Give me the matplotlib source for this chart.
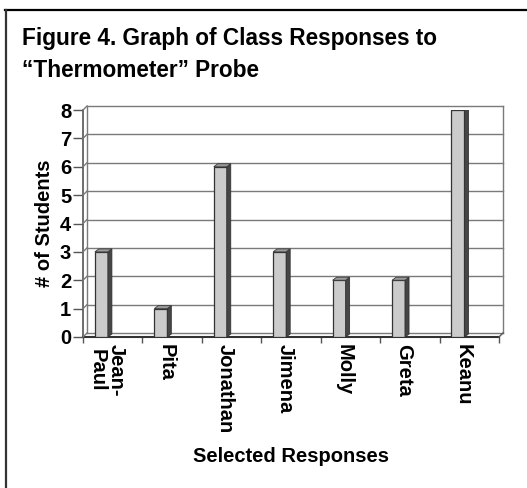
import matplotlib
matplotlib.use("Agg")
import matplotlib.pyplot as plt
from matplotlib.lines import Line2D
from matplotlib.patches import Polygon
from matplotlib.transforms import offset_copy, ScaledTranslation

# ---- data ----
categories = ["Jean-\nPaul", "Pita", "Jonathan", "Jimena", "Molly", "Greta", "Keanu"]
counts = [3, 1, 6, 3, 2, 2, 8]
y_ticks = [0, 1, 2, 3, 4, 5, 6, 7, 8]
title_lines = ["Figure 4. Graph of Class Responses to", "\u201cThermometer\u201d Probe"]
y_label = "# of Students"
x_label = "Selected Responses"

W, H = 527, 488
DPI = 100
FONT = "Liberation Sans"

fig = plt.figure(figsize=(W / DPI, H / DPI), dpi=DPI)
fig.patch.set_facecolor("white")

# front plotting frame in pixels: x 83..499, y(0)=337, y(8)=110
L, R, B, T = 83, 499, 337, 110
ax = fig.add_axes([L / W, 1 - B / H, (R - L) / W, (B - T) / H])
ax.set_xlim(-0.5, len(categories) - 0.5)
ax.set_ylim(0, 8)
ax.patch.set_visible(False)
for s in ax.spines.values():
    s.set_visible(False)

grid_c = "#7a7a7a"
axis_c = "#555555"
DX, DY = 4, 4  # depth offset of the back wall in pixels
back = offset_copy(ax.transData, fig=fig, x=DX, y=DY, units="dots")
x0, x1 = ax.get_xlim()

# back wall gridlines
for yv in y_ticks:
    ax.plot([x0, x1], [yv, yv], color=grid_c, lw=1.0, transform=back, clip_on=False, zorder=1)
# back wall vertical edges
ax.plot([x0, x0], [0, 8], color=grid_c, lw=1.0, transform=back, clip_on=False, zorder=1)
ax.plot([x1, x1], [0, 8], color=grid_c, lw=1.0, transform=back, clip_on=False, zorder=1)

# left wall diagonals + floor right diagonal (display coords)
def disp(x, y):
    return ax.transData.transform((x, y))

for yv in y_ticks:
    (fx, fy) = disp(x0, yv)
    fig.add_artist(Line2D([fx, fx + DX], [fy, fy + DY], transform=None, color=grid_c, lw=1.0))
(fx, fy) = disp(x1, 0)
fig.add_artist(Line2D([fx, fx + DX], [fy, fy + DY], transform=None, color=axis_c, lw=1.0))

# front y axis and floor front edge
ax.plot([x0, x0], [0, 8], color=axis_c, lw=1.2, clip_on=False, zorder=2)
ax.plot([x0, x1], [0, 0], color="#333333", lw=1.5, clip_on=False, zorder=2)

# bars: front face, side and top
px_per_x = (R - L) / (x1 - x0)
px_per_y = (B - T) / 8.0
bw = 13 / px_per_x
sdx = 4 / px_per_x
sdy = 3 / px_per_y
offs = -0.3
for i, v in enumerate(counts):
    left = i + offs
    ax.bar(left + bw / 2, v, width=bw, color="#cbcbcb", edgecolor="#333333",
           linewidth=0.9, zorder=5)
    side = Polygon([(left + bw, 0), (left + bw, v), (left + bw + sdx, v + sdy),
                    (left + bw + sdx, sdy)], closed=True, facecolor="#454545",
                   edgecolor="#333333", linewidth=0.6, zorder=5)
    top = Polygon([(left, v), (left + bw, v), (left + bw + sdx, v + sdy),
                   (left + sdx, v + sdy)], closed=True, facecolor="#9a9a9a",
                  edgecolor="#3a3a3a", linewidth=0.6, zorder=5)
    ax.add_patch(side)
    ax.add_patch(top)

# ticks
ax.set_yticks(y_ticks)
ax.set_yticklabels([str(t) for t in y_ticks], fontfamily=FONT, fontweight="bold",
                   fontsize=14.5)
ax.tick_params(axis="y", length=7, width=1, color=axis_c, pad=1.5)
ax.set_xticks([i + 0.5 for i in range(-1, len(categories))], minor=True)
ax.set_xticks(range(len(categories)))
ax.set_xticklabels(categories, rotation=-90, fontfamily=FONT, fontweight="bold",
                   fontsize=14.5, va="top", ha="center", linespacing=1.0)
ax.tick_params(axis="x", which="major", length=0, pad=5)
ax.tick_params(axis="x", which="minor", length=4, width=1, color=axis_c)
for lab in ax.get_xticklabels():
    lab.set_multialignment("center")
    lab.set_transform(lab.get_transform() + ScaledTranslation(-6 / DPI, 0, fig.dpi_scale_trans))

# texts
fig.text(22 / W, 1 - 45 / H, title_lines[0], fontfamily=FONT, fontweight="bold",
         fontsize=16.3, ha="left", va="baseline")
fig.text(22 / W, 1 - 77 / H, title_lines[1], fontfamily=FONT, fontweight="bold",
         fontsize=16.3, ha="left", va="baseline")
fig.text(44 / W, 1 - 223 / H, y_label, rotation=90, fontfamily=FONT, fontweight="bold",
         fontsize=14.5, ha="center", va="center")
fig.text(291 / W, 1 - 457 / H, x_label, fontfamily=FONT, fontweight="bold",
         fontsize=14.5, ha="center", va="center")

# outer frame (top and left rules)
fig.add_artist(Line2D([5 / W, 1], [1 - 9.5 / H, 1 - 9.5 / H], transform=fig.transFigure,
                      color="black", lw=1.6))
fig.add_artist(Line2D([5.5 / W, 5.5 / W], [0, 1 - 9.5 / H], transform=fig.transFigure,
                      color="#333333", lw=1.6))

fig.savefig("out.png", dpi=DPI, facecolor="white")
